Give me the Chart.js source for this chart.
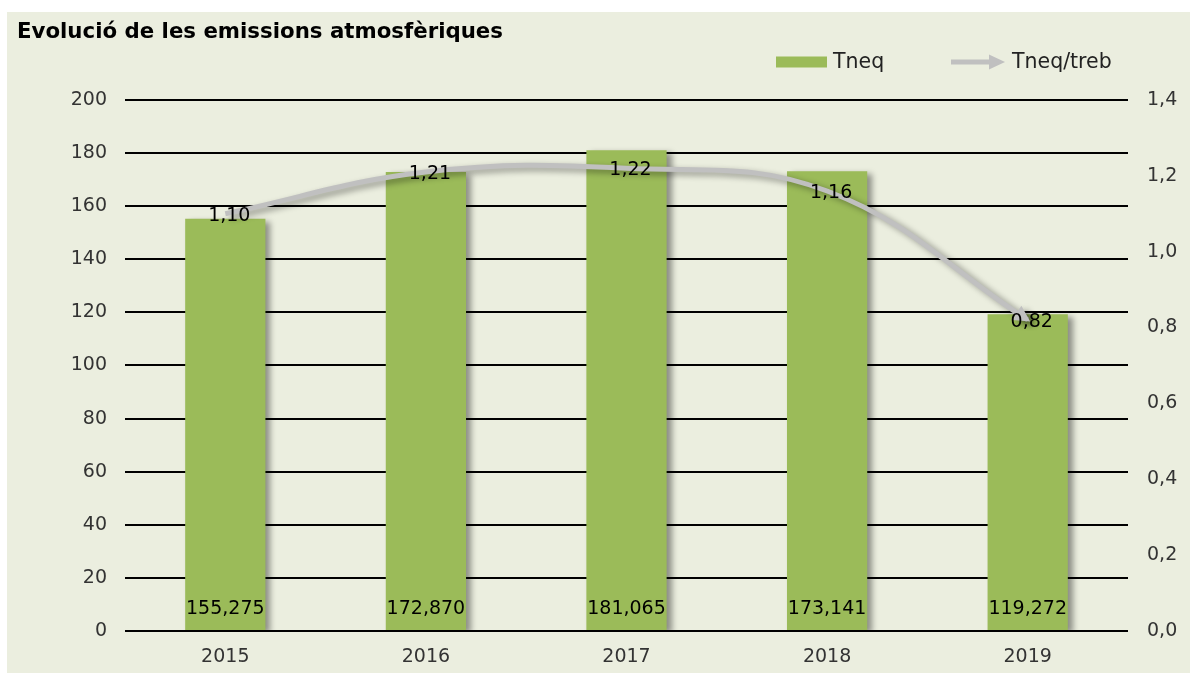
<!DOCTYPE html>
<html>
<head>
<meta charset="utf-8">
<script src="https://cdn.jsdelivr.net/npm/chart.js@4/dist/chart.umd.min.js"></script>
<style>
html,body{margin:0;padding:0;background:#fff;width:1190px;height:673px;overflow:hidden;}
#c{position:absolute;left:7px;top:12px;}
</style>
</head>
<body>
<canvas id="c" width="1183" height="661"></canvas>
<script>
const titleText = 'Evolució de les emissions atmosfèriques';
const categories = ['2015', '2016', '2017', '2018', '2019'];
const tneq = [155.275, 172.870, 181.065, 173.141, 119.272];
const tneqPerTreb = [1.10, 1.21, 1.22, 1.16, 0.82];
const seriesNames = ['Tneq', 'Tneq/treb'];
const leftAxis = {min: 0, max: 200, step: 20};
const rightAxis = {min: 0, max: 1.4, step: 0.2};

const BG = '#EBEEDF';
const GREEN = '#9BBB59';
const GRAY = '#C0C0C0';
const FONT = 'DejaVu Sans, Verdana, sans-serif';

const fmt = (v, d) => v.toFixed(d).replace('.', ',');

function arrowHead(ctx, x, y, dx, dy, len, half, color) {
  const l = Math.hypot(dx, dy) || 1;
  const ux = dx / l, uy = dy / l;
  const bx = x - ux * len, by = y - uy * len;
  ctx.beginPath();
  ctx.moveTo(x, y);
  ctx.lineTo(bx - uy * half, by + ux * half);
  ctx.lineTo(bx + uy * half, by - ux * half);
  ctx.closePath();
  ctx.fillStyle = color;
  ctx.fill();
}

const bgPlugin = {
  id: 'bg',
  beforeDraw(chart) {
    const ctx = chart.ctx;
    ctx.save();
    ctx.fillStyle = BG;
    ctx.fillRect(0, 0, chart.width, chart.height);
    ctx.restore();
  }
};

const shadowPlugin = {
  id: 'shadow',
  beforeDatasetDraw(chart, args) {
    const ctx = chart.ctx;
    ctx.save();
    ctx.shadowColor = 'rgba(0,0,0,0.4)';
    ctx.shadowBlur = 6;
    ctx.shadowOffsetX = 5;
    ctx.shadowOffsetY = 3;
  },
  afterDatasetDraw(chart, args) {
    const ctx = chart.ctx;
    if (args.index === 1) {
      const meta = chart.getDatasetMeta(1);
      const pts = meta.data;
      const last = pts[pts.length - 1];
      const dx = last.x - last.cp1x, dy = last.y - last.cp1y;
      const l = Math.hypot(dx, dy) || 1;
      arrowHead(ctx, last.x + dx / l * 3, last.y + dy / l * 3, dx, dy, 16, 8.5, GRAY);
    }
    ctx.restore();
  }
};

const labelsPlugin = {
  id: 'labels',
  afterDatasetsDraw(chart) {
    const ctx = chart.ctx;
    ctx.save();
    ctx.font = '19px ' + FONT;
    ctx.fillStyle = '#000';
    ctx.textAlign = 'center';
    ctx.textBaseline = 'middle';
    const bottom = chart.chartArea.bottom;
    chart.getDatasetMeta(0).data.forEach((bar, i) => {
      ctx.fillText(fmt(tneq[i], 3), bar.x, bottom - 22);
    });
    chart.getDatasetMeta(1).data.forEach((pt, i) => {
      ctx.fillText(fmt(tneqPerTreb[i], 2), pt.x + 4, pt.y + 2);
    });
    ctx.restore();
  },
  afterDraw(chart) {
    const ctx = chart.ctx;
    ctx.save();
    ctx.font = '20.5px ' + FONT;
    ctx.textBaseline = 'middle';
    ctx.textAlign = 'left';
    const cy = 50;
    // bar legend
    ctx.fillStyle = chart.data.datasets[0].backgroundColor;
    ctx.fillRect(769, cy - 5.5, 51, 11);
    ctx.fillStyle = '#222';
    ctx.fillText(chart.data.datasets[0].label, 826, cy + 1);
    // line legend
    ctx.strokeStyle = chart.data.datasets[1].borderColor;
    ctx.lineWidth = 5;
    ctx.beginPath();
    ctx.moveTo(944, cy);
    ctx.lineTo(984, cy);
    ctx.stroke();
    arrowHead(ctx, 998, cy, 1, 0, 16, 7.5, chart.data.datasets[1].borderColor);
    ctx.fillStyle = '#222';
    ctx.fillText(chart.data.datasets[1].label, 1005, cy + 1);
    ctx.restore();
  }
};

const tickFont = {family: FONT, size: 19};

new Chart(document.getElementById('c'), {
  type: 'bar',
  data: {
    labels: categories,
    datasets: [
      {
        type: 'bar', label: seriesNames[0], data: tneq,
        backgroundColor: GREEN, yAxisID: 'y',
        barPercentage: 0.4, categoryPercentage: 1, order: 2
      },
      {
        type: 'line', label: seriesNames[1], data: tneqPerTreb,
        borderColor: GRAY, borderWidth: 5, tension: 0.4,
        pointRadius: 0, yAxisID: 'y1', order: 1, borderCapStyle: 'butt', fill: false
      }
    ]
  },
  options: {
    responsive: false,
    animation: false,
    devicePixelRatio: 1,
    layout: {padding: {left: 10, right: 0, top: 0, bottom: 0}},
    plugins: {
      legend: {display: false},
      tooltip: {enabled: false},
      title: {
        display: true, text: titleText, align: 'start', color: '#000',
        font: {family: FONT, size: 21.3, weight: 'bold', lineHeight: 1.2},
        padding: {top: 8, bottom: 54.4}
      }
    },
    scales: {
      x: {
        grid: {display: false, drawTicks: false},
        border: {display: false},
        ticks: {color: '#333', font: tickFont, padding: 15},
        afterFit(s) { s.height = 42; }
      },
      y: {
        position: 'left', min: leftAxis.min, max: leftAxis.max,
        ticks: {stepSize: leftAxis.step, padding: 18, color: '#333', font: tickFont},
        grid: {color: '#000', lineWidth: 2, drawTicks: false},
        border: {display: false},
        afterFit(s) { s.width = 108; }
      },
      y1: {
        position: 'right', min: rightAxis.min, max: rightAxis.max,
        ticks: {stepSize: rightAxis.step, padding: 19, color: '#333', font: tickFont,
          callback: v => fmt(v, 1)},
        grid: {display: false, drawTicks: false},
        border: {display: false},
        afterFit(s) { s.width = 62; }
      }
    }
  },
  plugins: [bgPlugin, shadowPlugin, labelsPlugin]
});
</script>
</body>
</html>
